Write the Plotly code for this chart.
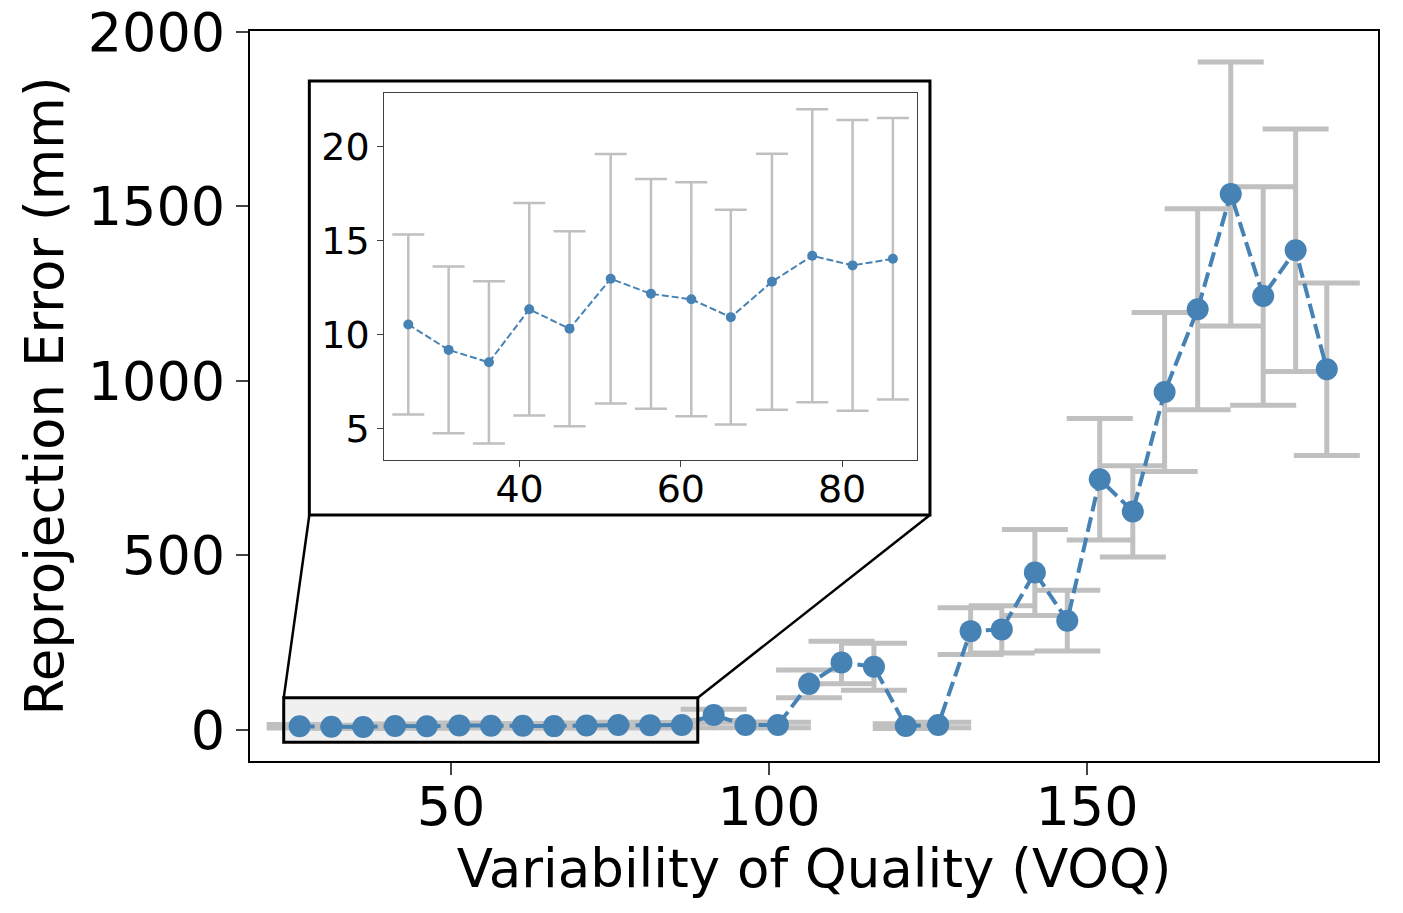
import plotly.graph_objects as go

# %% data
voq = [26.2, 31.2, 36.2, 41.2, 46.2, 51.3, 56.3, 61.3, 66.2, 71.3, 76.3, 81.3, 86.3,
       91.3, 96.3, 101.4, 106.3, 111.4, 116.5, 121.5, 126.6, 131.7, 136.6, 141.8,
       146.9, 152.0, 157.2, 162.2, 167.4, 172.6, 177.7, 182.8, 187.7]
err_mean = [10.55, 9.20, 8.54, 11.36, 10.32, 12.98, 12.18, 11.89, 10.94, 12.82, 14.20, 13.69, 14.04,
            43, 14, 14, 132, 193, 181, 11, 14, 283, 288, 451,
            313, 718, 626, 968, 1205, 1535, 1243, 1374, 1033]
err_std = [4.78, 4.43, 4.31, 5.65, 5.18, 6.63, 6.10, 6.22, 5.70, 6.80, 7.78, 7.72, 7.48,
           16, 8, 8, 40, 61, 67, 7, 8, 67, 68, 123,
           87, 174, 131, 228, 288, 378, 313, 347, 247]
n_zoom = 13  # first points shown again in the inset

main_ticks_x = [50, 100, 150]
main_ticks_y = [0, 500, 1000, 1500, 2000]
inset_ticks_x = [40, 60, 80]
inset_ticks_y = [5, 10, 15, 20]

blue = '#4682b4'
grey = '#c0c0c0'
font = 'DejaVu Sans'

# axis limits (matplotlib style 5% margins)
xr = [18.4, 195.75]
yr = [-89, 2002]
xr2 = [23.23, 89.33]
yr2 = [3.35, 22.85]
zoom_box = dict(x0=23.7, x1=88.8, y0=-35, y1=92)

fig = go.Figure()

# main error bars (behind the line)
fig.add_trace(go.Scatter(x=voq, y=err_mean, mode='markers',
                         marker=dict(opacity=0), hoverinfo='skip',
                         error_y=dict(type='data', array=err_std, color=grey,
                                      thickness=5, width=33)))
fig.add_trace(go.Scatter(x=voq, y=err_mean, mode='lines+markers',
                         line=dict(color=blue, width=4, dash='15px,6px'),
                         marker=dict(color=blue, size=22)))

# inset
fig.add_trace(go.Scatter(x=voq[:n_zoom], y=err_mean[:n_zoom], mode='markers',
                         xaxis='x2', yaxis='y2',
                         marker=dict(opacity=0), hoverinfo='skip',
                         error_y=dict(type='data', array=err_std[:n_zoom], color=grey,
                                      thickness=2.5, width=16)))
fig.add_trace(go.Scatter(x=voq[:n_zoom], y=err_mean[:n_zoom], mode='lines+markers',
                         xaxis='x2', yaxis='y2',
                         line=dict(color=blue, width=2, dash='7px,3px'),
                         marker=dict(color=blue, size=10)))


def px(v):
    return (v - xr[0]) / (xr[1] - xr[0])


def py(v):
    return (v - yr[0]) / (yr[1] - yr[0])


box = dict(x0=0.0526, x1=0.6028, y0=0.337, y1=0.9315)  # inset frame in paper coords

shapes = [
    dict(type='rect', xref='paper', yref='paper', **box,
         fillcolor='white', line=dict(color='black', width=3), layer='below'),
    dict(type='rect', xref='x', yref='y', **zoom_box,
         fillcolor='#f0f0f0', line=dict(width=0), layer='below'),
    dict(type='rect', xref='x', yref='y', **zoom_box,
         line=dict(color='black', width=3), layer='above'),
    dict(type='line', xref='paper', yref='paper',
         x0=box['x0'], y0=box['y0'], x1=px(zoom_box['x0']), y1=py(zoom_box['y1']),
         line=dict(color='black', width=2.5)),
    dict(type='line', xref='paper', yref='paper',
         x0=box['x1'], y0=box['y0'], x1=px(zoom_box['x1']), y1=py(zoom_box['y1']),
         line=dict(color='black', width=2.5)),
]

# page body has an 8px margin, so the figure is 8px smaller each way
fig.update_layout(
    width=1395, height=905,
    margin=dict(l=242, r=25, t=23, b=152),
    plot_bgcolor='white', paper_bgcolor='white',
    showlegend=False,
    font=dict(family=font, size=54, color='black'),
    shapes=shapes,
    xaxis=dict(range=xr, tickvals=main_ticks_x, showline=True, mirror=True,
               linecolor='black', linewidth=2, ticks='outside', ticklen=12, tickwidth=2,
               showgrid=False, zeroline=False, automargin=False, ticklabelstandoff=-15,
               ticklabeloverflow='allow',
               title=dict(text='Variability of Quality (VOQ)', font=dict(size=53), standoff=4)),
    yaxis=dict(range=yr, tickvals=main_ticks_y, showline=True, mirror=True,
               linecolor='black', linewidth=2, ticks='outside', ticklen=12, tickwidth=2,
               showgrid=False, zeroline=False, automargin=False, ticklabeloverflow='allow',
               title=dict(text='Reprojection Error (mm)', font=dict(size=53), standoff=7)),
    xaxis2=dict(domain=[0.1191, 0.5916], anchor='y2', range=xr2, tickvals=inset_ticks_x,
                showline=True, mirror=True, linecolor='#404040', linewidth=1.2,
                ticks='outside', ticklen=6, tickcolor='#404040', tickwidth=1.2,
                showgrid=False, zeroline=False, tickfont=dict(size=38), automargin=False,
                ticklabelstandoff=-11),
    yaxis2=dict(domain=[0.4123, 0.9151], anchor='x2', range=yr2, tickvals=inset_ticks_y,
                showline=True, mirror=True, linecolor='#404040', linewidth=1.2,
                ticks='outside', ticklen=6, tickcolor='#404040', tickwidth=1.2,
                showgrid=False, zeroline=False, tickfont=dict(size=38), automargin=False),
)

fig.write_html("out.html")
